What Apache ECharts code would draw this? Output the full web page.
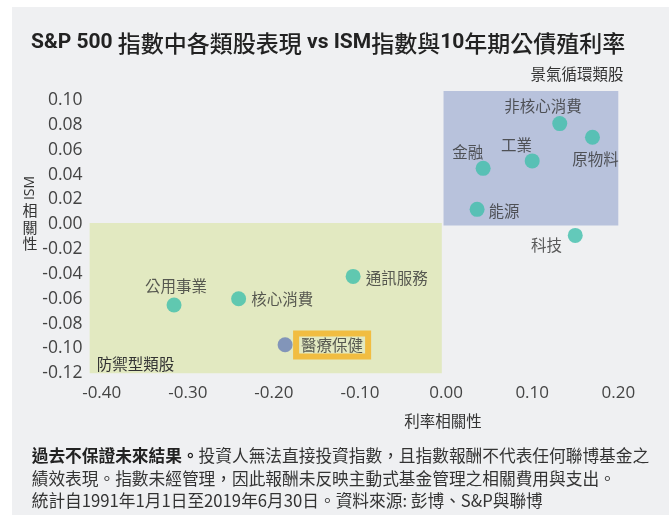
<!DOCTYPE html>
<html><head><meta charset="utf-8">
<script src="https://cdn.jsdelivr.net/npm/echarts@6/dist/echarts.min.js"></script>
<style>html,body{margin:0;padding:0;background:#fff}#c{width:672px;height:516px}</style>
</head><body><div id="c"></div>
<script>
// ---- data ----
const sectors  = ['公用事業','核心消費','醫療保健','通訊服務','能源','金融','工業','非核心消費','原物料','科技'];
const rateCorr = [-0.316, -0.241, -0.187, -0.108, 0.036, 0.043, 0.100, 0.132, 0.170, 0.150];
const ismCorr  = [-0.065, -0.060, -0.097, -0.042, 0.012, 0.045, 0.051, 0.081, 0.070, -0.009];
const highlighted = ['醫療保健'];
const regionNames = ['防禦型類股', '景氣循環類股'];
const regionRate  = [[-0.414, -0.005], [-0.003, 0.20]];
const regionIsm   = [[-0.12, 0.001], [-0.001, 0.1073]];
const titleParts  = ['S&P 500 ', '指數中各類股表現', ' vs ISM', '指數與', '10', '年期公債殖利率'];
const xAxisTitle  = '利率相關性';
const yAxisTitle  = ['ISM', '相關性'];
const noteBold    = '過去不保證未來結果。';
const noteLines   = ['投資人無法直接投資指數，且指數報酬不代表任何聯博基金之',
                     '績效表現。指數未經管理，因此報酬未反映主動式基金管理之相關費用與支出。',
                     '統計自1991年1月1日至2019年6月30日。資料來源: 彭博、S&P與聯博'];

// ---- layout / style (not data) ----
const labelOffset = {
  '公用事業':[2,-19], '核心消費':[43.6,0], '醫療保健':[47,0.3], '通訊服務':[43.7,1.4],
  '能源':[27,1.3], '金融':[-15.5,-16.7], '工業':[-15.6,-15.3], '非核心消費':[-16.7,-18],
  '原物料':[3.1,21.7], '科技':[-28.7,9.3]
};
const CJK = "'Noto Sans CJK TC', 'Noto Sans CJK SC', sans-serif";
const NUM = "'Open Sans', 'Noto Sans', sans-serif";
const teal = '#40bfab', blueDot = '#6a80b6';
const SYM = 15;

const points = sectors.map((n, i) => {
  const off = labelOffset[n];
  const hl = highlighted.includes(n);
  const lab = {
    show: true, formatter: n,
    position: [SYM/2 + off[0], SYM/2 + off[1]],
    align: 'center', verticalAlign: 'middle',
    fontFamily: CJK, fontSize: 15.5, color: '#333', lineHeight: 17
  };
  if (hl) Object.assign(lab, {borderColor: '#f5b120', borderWidth: 3, padding: [3, 5], backgroundColor: 'transparent'});
  return { name: n, value: [rateCorr[i], ismCorr[i]], itemStyle: {color: hl ? blueDot : teal}, label: lab };
});

const fmt = (step) => (v) => {
  const k = v / step;
  if (Math.abs(k - Math.round(k)) > 1e-6) return '';
  return (Math.round(k) * step).toFixed(2);
};

const chart = echarts.init(document.getElementById('c'), null, {renderer: 'canvas'});
chart.setOption({
  animation: false,
  backgroundColor: '#ffffff',
  title: {
    left: 31, top: 28, padding: 0,
    text: `{a|${titleParts[0]}}{b|${titleParts[1]}}{a|${titleParts[2]}}{b|${titleParts[3]}}{a|${titleParts[4]}}{b|${titleParts[5]}}`,
    textStyle: {
      rich: {
        a: {fontFamily: "'Liberation Sans Narrow', 'Roboto', sans-serif", fontWeight: 'bold', fontSize: 21, color: '#222', lineHeight: 30},
        b: {fontFamily: CJK, fontWeight: 500, fontSize: 23, color: '#222', lineHeight: 30}
      }
    }
  },
  graphic: [
    {type: 'rect', z: -10, silent: true, shape: {x: 12, y: 7, width: 657, height: 508}, style: {fill: '#eff0f2'}},
    {type: 'text', silent: true, x: 30, y: 188, rotation: Math.PI/2,
     style: {text: yAxisTitle[0], fontFamily: NUM, fontSize: 14, fill: '#333', align: 'center', verticalAlign: 'middle'}},
    {type: 'text', silent: true, x: 30, y: 227,
     style: {text: yAxisTitle[1].split('').join('\n'), fontFamily: CJK, fontSize: 15, lineHeight: 16.5, fill: '#333', align: 'center', verticalAlign: 'middle'}},
    {type: 'text', silent: true, x: 443, y: 420.7,
     style: {text: xAxisTitle, fontFamily: CJK, fontSize: 15.5, fill: '#333', align: 'center', verticalAlign: 'middle'}},
    {type: 'text', silent: true, x: 31.7, y: 444.6,
     style: {
       text: `{b|${noteBold}}{n|${noteLines[0]}}\n{n|${noteLines[1]}}\n{n|${noteLines[2]}}`,
       align: 'left', verticalAlign: 'top', fontFamily: CJK, fontSize: 16.7, lineHeight: 22.4, fill: '#333',
       rich: {
         b: {fontFamily: CJK, fontSize: 16.7, lineHeight: 22.4, fontWeight: 'bold', fill: '#222'},
         n: {fontFamily: CJK, fontSize: 16.7, lineHeight: 22.4, fill: '#333'}
       }
     }}
  ],
  grid: {left: 84.5, top: 90.7, width: 533.8, height: 282.6, containLabel: false, outerBoundsMode: 'none'},
  xAxis: {
    type: 'value', min: -0.42, max: 0.20, interval: 0.02,
    axisLine: {show: false}, axisTick: {show: false}, splitLine: {show: false},
    axisLabel: {formatter: fmt(0.1), fontFamily: NUM, fontSize: 17, color: '#444', margin: 11}
  },
  yAxis: {
    type: 'value', min: -0.12, max: 0.1075, interval: 0.02,
    axisLine: {show: false}, axisTick: {show: false}, splitLine: {show: false},
    axisLabel: {formatter: fmt(0.02), showMaxLabel: false, fontFamily: NUM, fontSize: 17.5, color: '#444', margin: 2}
  },
  series: [{
    type: 'scatter', symbol: 'circle', symbolSize: SYM, data: points,
    emphasis: {disabled: true},
    markArea: {
      silent: true,
      data: [
        [{name: regionNames[0], xAxis: regionRate[0][0], yAxis: regionIsm[0][0],
          itemStyle: {color: '#e2e9c1'},
          label: {position: 'insideBottomLeft', distance: 0, offset: [7, -1.3], fontFamily: CJK, fontSize: 15.5, lineHeight: 16, color: '#333'}},
         {xAxis: regionRate[0][1], yAxis: regionIsm[0][1]}],
        [{name: regionNames[1], xAxis: regionRate[1][0], yAxis: regionIsm[1][0],
          itemStyle: {color: '#b8c2dc'},
          label: {position: 'top', distance: 8.7, offset: [46, 0], fontFamily: CJK, fontSize: 15.5, lineHeight: 16, color: '#333'}},
         {xAxis: regionRate[1][1], yAxis: regionIsm[1][1]}]
      ]
    }
  }]
});
</script></body></html>
